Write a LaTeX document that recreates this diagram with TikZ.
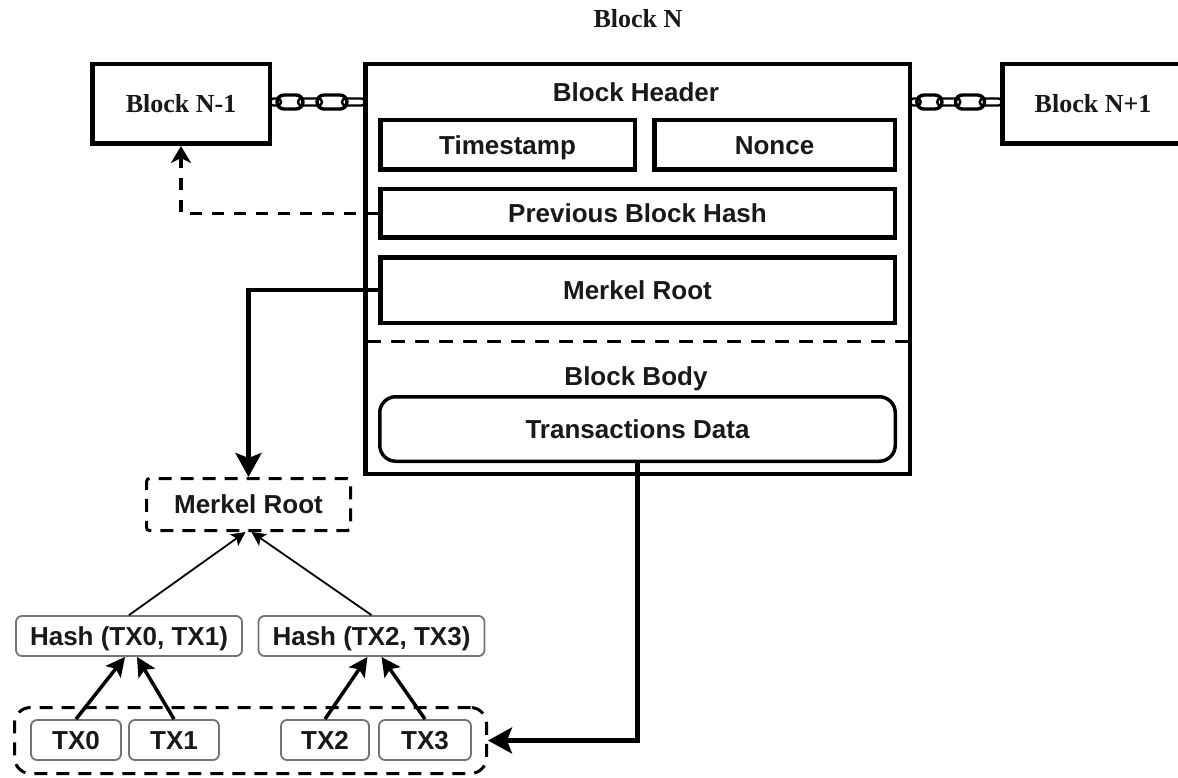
\documentclass[tikz,border=0pt]{standalone}
\usepackage{fontspec}
\setmainfont{Liberation Serif}
\newfontfamily\sansfam{Liberation Sans}
\usetikzlibrary{arrows.meta,calc}
\tikzset{
  chainpic/.pic={
    \draw[line width=2.4, rounded corners=3.5] (-2,-3.5) rectangle (9,3.5);
    \draw[line width=2.4, rounded corners=3.5] (26,-3.5) rectangle (50,3.5);
    \draw[line width=2.4, rounded corners=3.5] (70,-3.5) rectangle (93,3.5);
    \draw[line width=3.4, rounded corners=7] (5,-7) rectangle (31,7);
    \draw[line width=3.4, rounded corners=7] (45,-7) rectangle (75,7);
  },
  serifbox/.style={draw, line width=4.5, inner sep=0pt, text=black!90,
    font=\fontsize{26}{30}\selectfont\bfseries},
  sanstext/.style={inner sep=0pt, text=black!90, text height=24pt, text depth=5.5pt,
    font=\sansfam\fontsize{26}{30}\selectfont\bfseries},
  hdrbox/.style={sanstext, draw, line width=4.5},
  lbl/.style={sanstext},
  softbox/.style={sanstext, draw=black!55, line width=1.8, rounded corners=6},
  dashbox/.style={draw, line width=3, dash pattern=on 13pt off 9pt, inner sep=0pt},
  thickarrow/.style={line width=4.2, -{Stealth[length=24pt,width=26pt,inset=5pt]}},
  medarrow/.style={line width=3.5, -{Stealth[length=19pt,width=19pt,inset=4pt]}},
  thinarrow/.style={line width=1.8, -{Stealth[length=14pt,width=14pt,inset=3pt]}},
}
\begin{document}
\begin{tikzpicture}[x=1pt,y=-1pt]
\useasboundingbox (0,0) rectangle (1178,778);
\clip (0,0) rectangle (1178,778);
\fill[white] (0,0) rectangle (1178,778);

% title
\node[inner sep=0pt, text=black!90, font=\fontsize{26}{30}\selectfont\bfseries] (title) at (638,19) {Block N};

% blocks
\node[serifbox, minimum width=177.5, minimum height=79.5] (bn1) at (181,104) {Block N-1};
\node[serifbox, minimum width=181.5, minimum height=79.5] (bnp1) at (1093,104) {Block N+1};
\node[draw, line width=4.5, minimum width=544.5, minimum height=409.5, inner sep=0pt] (bn) at (637.5,269) {};

% chains
\pic at (272,102) {chainpic};
\pic[xscale=0.967] at (912,102) {chainpic};

% header
\node[lbl] (hdr) at (636,92) {Block Header};
\node[hdrbox, minimum width=254.5, minimum height=49.5] (ts) at (507.5,145) {Timestamp};
\node[hdrbox, minimum width=240.5, minimum height=49.5] (nonce) at (774.5,145) {Nonce};
\node[hdrbox, minimum width=514.5, minimum height=48.5] (pbh) at (637.5,213.5) {Previous Block Hash};
\node[hdrbox, minimum width=514.5, minimum height=65.5] (mrin) at (637.5,290) {Merkel Root};

% separator
\coordinate (sepL) at (bn.west |- 0,341);
\coordinate (sepR) at (bn.east |- 0,341);
\draw[line width=3, dash pattern=on 14pt off 10pt] ([xshift=4pt]sepL) -- ([xshift=-4pt]sepR);

% body
\node[lbl] (body) at (636,376) {Block Body};
\node[hdrbox, line width=3.5, rounded corners=16, minimum width=515.5, minimum height=64.5] (td) at (637.5,429) {Transactions Data};

% merkel tree
\node[lbl, dashbox, rounded corners=3, minimum width=204, minimum height=52] (mr) at (248.5,504.5) {Merkel Root};
\node[softbox, minimum width=226, minimum height=40] (h01) at (129,636) {Hash (TX0, TX1)};
\node[softbox, minimum width=226, minimum height=40] (h23) at (371.5,636) {Hash (TX2, TX3)};
\node[dashbox, rounded corners=16, minimum width=472, minimum height=66] (txc) at (250.5,740.5) {};
\node[softbox, minimum width=90, minimum height=40] (tx0) at (76,740) {TX0};
\node[softbox, minimum width=90, minimum height=40] (tx1) at (174,740) {TX1};
\node[softbox, minimum width=88, minimum height=40] (tx2) at (325,740) {TX2};
\node[softbox, minimum width=92, minimum height=40] (tx3) at (425,740) {TX3};

% connectors
\draw[line width=3.5, dash pattern=on 12pt off 10pt, -{Stealth[length=17pt,width=20pt,inset=5pt]}] (pbh.west) -| (bn1.south);
\draw[thickarrow] (mrin.west) -| (mr.north);
\draw[thickarrow] (td.south) |- (txc.east);
\draw[thinarrow] (h01.north) -- ([xshift=-3pt]mr.south);
\draw[thinarrow] (h23.north) -- ([xshift=3pt]mr.south);
\draw[medarrow] (tx0.north) -- ([xshift=-4pt]h01.south);
\draw[medarrow] (tx1.north) -- ([xshift=8pt]h01.south);
\draw[medarrow] (tx2.north) -- ([xshift=-4pt]h23.south);
\draw[medarrow] (tx3.north) -- ([xshift=10pt]h23.south);
\end{tikzpicture}
\end{document}
